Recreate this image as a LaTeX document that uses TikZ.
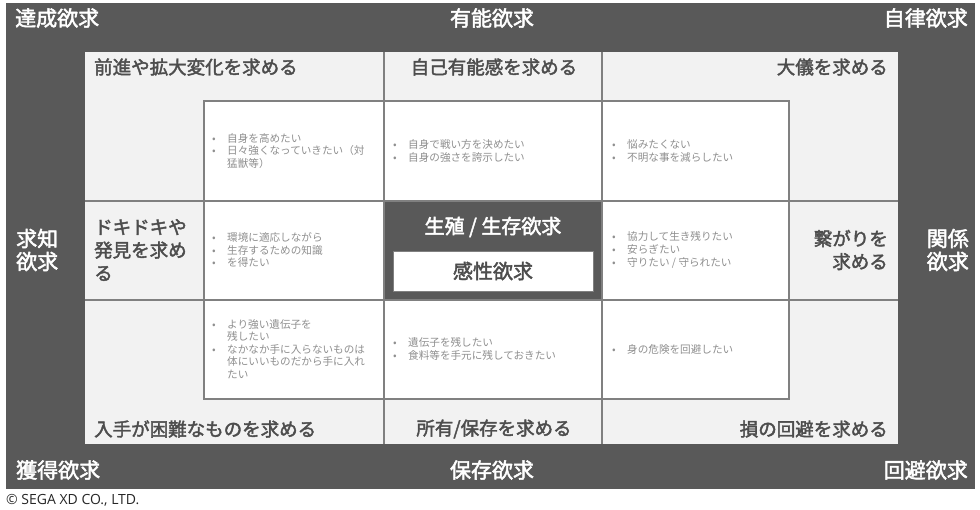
\documentclass[tikz,border=0pt]{standalone}
\usepackage{fontspec}
\setmainfont{Noto Sans CJK JP}
\newfontfamily\medjp{Noto Sans CJK JP}[FakeBold=2.2]
\newfontfamily\copyfont{Open Sans}
\definecolor{dk}{HTML}{595959}
\definecolor{lg}{HTML}{F2F2F2}
\definecolor{ln}{HTML}{808080}
\definecolor{hd}{HTML}{4D4D4D}
\definecolor{bt}{HTML}{8F8F8F}
\definecolor{cp}{HTML}{262626}
\tikzset{
  band/.style={text=white, font=\fontsize{21}{23}\selectfont\medjp, inner sep=0pt},
  lbl/.style={text=hd, font=\fontsize{18.5}{23}\selectfont\medjp, inner sep=0pt},
  ctr/.style={font=\fontsize{20}{22}\selectfont\medjp, inner sep=0pt},
  blist/.style={text=bt, font=\fontsize{10.6}{12.6}\selectfont, inner sep=0pt, anchor=west, align=left},
  gridline/.style={draw=ln, line width=1.2pt},
}
\newcommand{\bi}[1]{\makebox[15pt][l]{•}#1}
\newcommand{\bc}[1]{\hspace*{15pt}#1}
\begin{document}
\begin{tikzpicture}[x=1pt,y=-1pt]
\useasboundingbox (0,0) rectangle (980,509);
\fill[white] (0,0) rectangle (980,509);
% frames
\fill[dk] (6,3) rectangle (975,489);
\fill[lg] (85,52) rectangle (898,444);
\fill[white] (204,101) rectangle (789,399);
% grid
\draw[gridline] (85,201) -- (898,201);
\draw[gridline] (85,300) -- (898,300);
\draw[gridline] (384,52) -- (384,444);
\draw[gridline] (602,52) -- (602,444);
\draw[gridline] (204,101) rectangle (789,399);
% centre
\fill[dk] (384,201) rectangle (602,300);
\draw[gridline] (384,201) rectangle (602,300);
\filldraw[fill=white, draw=ln, line width=0.6pt] (393,251) rectangle (593,291);
\node[ctr, text=white] (seizon) at (493,227) {生殖 / 生存欲求};
\node[ctr, text=hd] (kansei) at (493,271) {感性欲求};
% outer band labels
\node[band, anchor=west] (tassei) at (15,18) {達成欲求};
\node[band] (yuno) at (492,18) {有能欲求};
\node[band, anchor=east] (jiritsu) at (968,18) {自律欲求};
\node[band, anchor=west, align=left] (kyuchi) at (16,250) {求知\\欲求};
\node[band, anchor=east, align=right] (kankei) at (969,250) {関係\\欲求};
\node[band, anchor=west] (kakutoku) at (16,470) {獲得欲求};
\node[band] (hozon) at (492,470) {保存欲求};
\node[band, anchor=east] (kaihi) at (968,470) {回避欲求};
% inner labels
\node[lbl, anchor=west] (zenshin) at (94,67) {前進や拡大変化を求める};
\node[lbl] (jiko) at (494,67) {自己有能感を求める};
\node[lbl, anchor=east] (taigi) at (888,67) {大儀を求める};
\node[lbl, anchor=west, align=left] (dokidoki) at (94,250) {ドキドキや\\発見を求め\\る};
\node[lbl, anchor=east, align=right] (tsunagari) at (888,250) {繋がりを\\求める};
\node[lbl, anchor=west] (nyushu) at (94,429) {入手が困難なものを求める};
\node[lbl] (shoyu) at (494,429) {所有/保存を求める};
\node[lbl, anchor=east] (son) at (888,429) {損の回避を求める};
% bullet cells
\node[blist] (c11) at (212,151) {\bi{自身を高めたい}\\\bi{日々強くなっていきたい（対}\\\bc{猛獣等）}};
\node[blist] (c12) at (393,151) {\bi{自身で戦い方を決めたい}\\\bi{自身の強さを誇示したい}};
\node[blist] (c13) at (612,151) {\bi{悩みたくない}\\\bi{不明な事を減らしたい}};
\node[blist] (c21) at (212,250) {\bi{環境に適応しながら}\\\bi{生存するための知識}\\\bi{を得たい}};
\node[blist] (c23) at (612,250) {\bi{協力して生き残りたい}\\\bi{安らぎたい}\\\bi{守りたい / 守られたい}};
\node[blist] (c31) at (212,349) {\bi{より強い遺伝子を}\\\bc{残したい}\\\bi{なかなか手に入らないものは}\\\bc{体にいいものだから手に入れ}\\\bc{たい}};
\node[blist] (c32) at (393,349) {\bi{遺伝子を残したい}\\\bi{食料等を手元に残しておきたい}};
\node[blist] (c33) at (612,349) {\bi{身の危険を回避したい}};
% copyright
\node[anchor=west, inner sep=0pt, text=cp, font=\fontsize{14}{16}\selectfont\copyfont] (copy) at (6,500) {© SEGA XD CO., LTD.};
\end{tikzpicture}
\end{document}
